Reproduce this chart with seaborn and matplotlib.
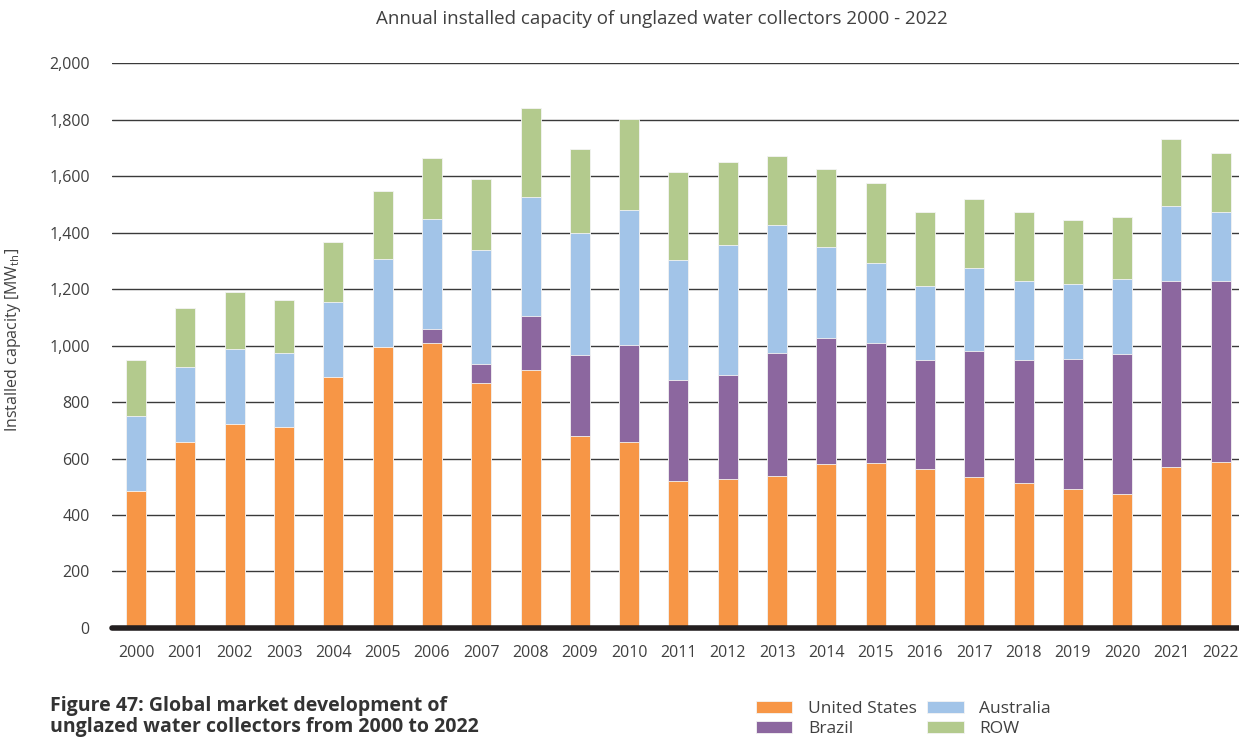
import numpy as np
import pandas as pd
import seaborn as sns
import matplotlib.pyplot as plt

# --- data (MWth per year) ---
years = [str(y) for y in range(2000, 2023)]
united_states = [485, 660, 722, 711, 887, 993, 1009, 868, 913, 681, 658, 522,
                 528, 539, 580, 584, 564, 536, 514, 491, 475, 570, 588]
brazil = [0, 0, 0, 0, 0, 0, 50, 67, 191, 287, 343, 356,
          367, 436, 446, 424, 384, 445, 434, 462, 494, 658, 640]
australia = [265, 265, 265, 264, 268, 313, 389, 403, 420, 432, 479, 424,
             460, 453, 321, 284, 264, 295, 282, 266, 265, 267, 244]
row = [197, 208, 203, 186, 211, 241, 216, 251, 317, 294, 321, 312,
       293, 244, 279, 283, 259, 241, 241, 224, 221, 235, 208]

series_names = ['United States', 'Brazil', 'Australia', 'ROW']
colors = ['#F79646', '#8C679F', '#A2C4E8', '#B3CA8D']

df = pd.DataFrame({'year': years, 'United States': united_states,
                   'Brazil': brazil, 'Australia': australia, 'ROW': row})
cum = df[series_names].cumsum(axis=1)

sns.set_style('white')
plt.rcParams['font.family'] = ['Open Sans', 'DejaVu Sans']
text_col = '#404040'

fig = plt.figure(figsize=(12.39, 7.37), dpi=100)
ax = fig.add_axes([0.0904, 0.1479, 0.9096, 0.7666])

# stacked bars: draw cumulative totals from top layer down
for name, col in reversed(list(zip(series_names, colors))):
    sns.barplot(x=df['year'], y=cum[name], color=col, width=0.405,
                errorbar=None, ax=ax, saturation=1, label=name,
                edgecolor='#f4f4f4', linewidth=0.6)

ax.set_ylim(0, 2000)
ax.set_xlim(-0.49, 22.37)
ax.set_yticks(range(0, 2001, 200))
ax.set_yticklabels([f'{v:,}' for v in range(0, 2001, 200)])
ax.yaxis.grid(True, color='#3a3a3a', lw=1.0)
ax.set_axisbelow(True)
for s in ax.spines.values():
    s.set_visible(False)
ax.axhline(0, color='#231F20', lw=4, zorder=5, clip_on=False)
ax.tick_params(axis='both', length=0, labelsize=11.5, colors=text_col)
ax.tick_params(axis='y', pad=16)
ax.tick_params(axis='x', pad=12)
ax.set_xlabel('')
ax.set_ylabel(r'Installed capacity [MW$_{\mathregular{th}}$]', fontsize=11.5,
              color=text_col)
ax.yaxis.set_label_coords(-0.079, 0.51)

fig.text(0.534, 0.974, 'Annual installed capacity of unglazed water collectors 2000 - 2022',
         ha='center', va='center', fontsize=13.5, color=text_col)

fig.text(0.040, 0.056,
         'Figure 47: Global market development of\nunglazed water collectors from 2000 to 2022',
         ha='left', va='top', fontsize=14, fontweight='bold', color='#333333',
         linespacing=1.1)

handles, labels = ax.get_legend_handles_labels()
order = [labels.index(n) for n in series_names]
fig.legend([handles[i] for i in order], series_names, ncol=2,
           loc='upper left', bbox_to_anchor=(0.603, 0.061), frameon=False,
           fontsize=12.5, handlelength=2.1, handleheight=0.7,
           columnspacing=0.6, labelspacing=0.25, handletextpad=0.9,
           borderpad=0, labelcolor=text_col)
if ax.get_legend() is not None:
    ax.get_legend().remove()

fig.savefig('out.png', dpi=100)
